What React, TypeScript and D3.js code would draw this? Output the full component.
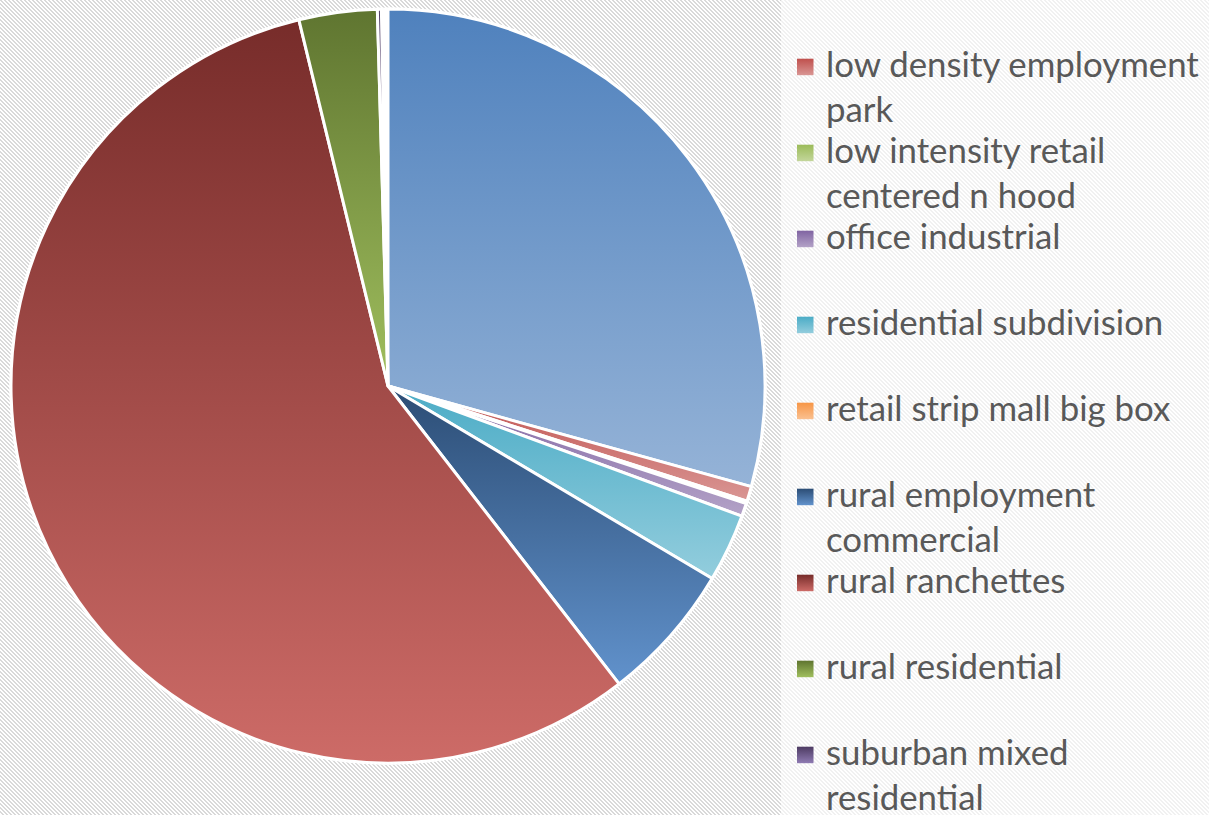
import React, { useMemo } from "react";
import * as d3 from "d3";

// Land-use categories in data order (pie runs clockwise from 12 o'clock).
const categories = [
  "existing urban",
  "low density employment park",
  "low intensity retail centered n hood",
  "office industrial",
  "residential subdivision",
  "retail strip mall big box",
  "rural employment commercial",
  "rural ranchettes",
  "rural residential",
  "suburban mixed residential",
];

// Share of total area, in percent.
const shares = [29.3, 0.64, 0.11, 0.56, 2.92, 0.0, 5.97, 56.7, 3.35, 0.17];

// Gradient end colours for each slice (top -> bottom).
const topColors = [
  "#4F81BD", "#C0504D", "#9BBB59", "#8064A2", "#4BACC6",
  "#F79646", "#2C4D75", "#772C2A", "#5F7530", "#4D3B62",
];
const bottomColors = [
  "#95B3D7", "#D99694", "#C3D69B", "#B3A2C7", "#93CDDD",
  "#FAC090", "#6192CC", "#CD6B67", "#A0BF5E", "#8F7BB3",
];

const W = 1209;
const H = 815;
const CX = 388;
const CY = 386;
const R = 377;
const PLOT_RIGHT = 781;

const FONT_FAMILY = "Lato, 'Open Sans', sans-serif";
const FONT_SIZE = 34.8;
const LEGEND_X = 797;
const LEGEND_TEXT_X = 826;
const LEGEND_MAX_W = 382;
const LEGEND_FIRST_BASELINE = 76.7 - 86; // first entry scrolls above the legend area
const LEGEND_STEP = 86;
const LINE_H = 45;

function wrapText(text: string, maxW: number): string[] {
  const canvas = document.createElement("canvas");
  const ctx = canvas.getContext("2d")!;
  ctx.font = `${FONT_SIZE}px ${FONT_FAMILY}`;
  const words = text.split(" ");
  const lines: string[] = [];
  let cur = "";
  for (const w of words) {
    const test = cur ? cur + " " + w : w;
    if (cur && ctx.measureText(test).width > maxW) {
      lines.push(cur);
      cur = w;
    } else {
      cur = test;
    }
  }
  if (cur) lines.push(cur);
  return lines;
}

function hatchRects(period: number, thick: number) {
  const out: { x: number; y: number; w: number }[] = [];
  for (let y = 0; y < period; y++) {
    const x = y % period;
    const w1 = Math.min(thick, period - x);
    out.push({ x, y, w: w1 });
    if (w1 < thick) out.push({ x: 0, y, w: thick - w1 });
  }
  return out;
}

export default function App() {
  const total = 100;
  const sum = d3.sum(shares);

  const arcs = useMemo(() => {
    const pie = d3
      .pie<number>()
      .sort(null)
      .value((d) => d)
      .startAngle(0)
      .endAngle((2 * Math.PI * sum) / total);
    return pie(shares);
  }, [sum]);

  const arcGen = d3.arc<d3.PieArcDatum<number>>().innerRadius(0).outerRadius(R);
  const legendLines = useMemo(() => categories.map((c) => wrapText(c, LEGEND_MAX_W)), []);
  const hatch = hatchRects(4, 2);

  return (
    <svg
      width={W}
      height={H}
      style={{ position: "absolute", left: 0, top: 0, display: "block" }}
      xmlns="http://www.w3.org/2000/svg"
    >
      <defs>
        <pattern id="hatchPlot" width={4} height={4} patternUnits="userSpaceOnUse">
          <rect width={4} height={4} fill="#ffffff" />
          {hatch.map((r, i) => (
            <rect key={i} x={r.x} y={r.y} width={r.w} height={1} fill="#d9d9d9" />
          ))}
        </pattern>
        <pattern id="hatchLegend" width={4} height={4} patternUnits="userSpaceOnUse">
          <rect width={4} height={4} fill="#ffffff" />
          {hatch.map((r, i) => (
            <rect key={i} x={r.x} y={r.y} width={r.w} height={1} fill="#f1f1f1" />
          ))}
        </pattern>
        {categories.map((_, i) => (
          <linearGradient key={i} id={`grad${i}`} x1="0" y1="0" x2="0" y2="1">
            <stop offset="0" stopColor={topColors[i]} />
            <stop offset="1" stopColor={bottomColors[i]} />
          </linearGradient>
        ))}
      </defs>

      <rect x={0} y={0} width={PLOT_RIGHT} height={H} fill="url(#hatchPlot)" />
      <rect x={PLOT_RIGHT} y={0} width={W - PLOT_RIGHT} height={H} fill="url(#hatchLegend)" />

      <g transform={`translate(${CX},${CY})`}>
        <circle r={R} fill="#ffffff" stroke="#ffffff" strokeWidth={3} />
        {arcs.map((a, i) =>
          a.endAngle - a.startAngle > 0 ? (
            <path
              key={i}
              d={arcGen(a) || ""}
              fill={`url(#grad${i})`}
              stroke="#ffffff"
              strokeWidth={3}
              strokeLinejoin="round"
            />
          ) : null
        )}
      </g>

      <g fontFamily={FONT_FAMILY} fontSize={FONT_SIZE} fill="#595959">
        {categories.map((c, i) => {
          const base = LEGEND_FIRST_BASELINE + i * LEGEND_STEP;
          // entries scrolled above the top of the legend are not shown
          if (base < 20) return null;
          return (
            <g key={c}>
              <rect
                x={LEGEND_X}
                y={base - 18}
                width={16.5}
                height={16.5}
                fill={`url(#grad${i})`}
              />
              {legendLines[i].map((line, j) => (
                <text key={j} x={LEGEND_TEXT_X} y={base + j * LINE_H}>
                  {line}
                </text>
              ))}
            </g>
          );
        })}
      </g>
    </svg>
  );
}
